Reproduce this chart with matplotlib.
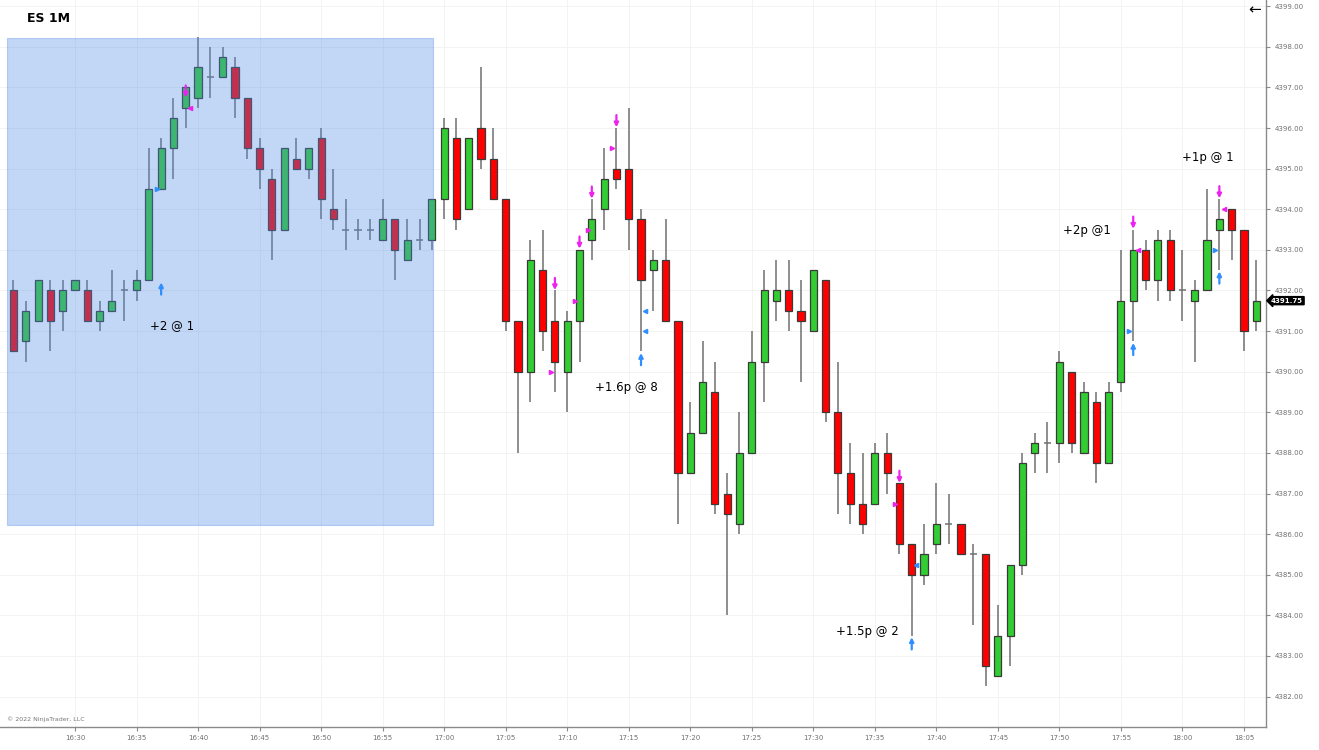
import matplotlib
matplotlib.use("Agg")
import matplotlib.pyplot as plt
import matplotlib.patches as patches
import matplotlib.transforms as mtransforms
import numpy as np

# ---------------- data ----------------
# minutes relative to 16:30 (first bar 16:25, last bar 18:06)
minutes = list(range(-5, 97))
opens = [4392.0, 4390.75, 4391.25, 4392.0, 4391.5, 4392.0, 4392.0, 4391.25, 4391.5, 4392.0,
         4392.0, 4392.25, 4394.5, 4395.5, 4396.5, 4396.75, 4397.25, 4397.25, 4397.5, 4396.75,
         4395.5, 4394.75, 4393.5, 4395.25, 4395.0, 4395.75, 4394.0, 4393.5, 4393.5, 4393.5,
         4393.25, 4393.75, 4392.75, 4393.25, 4393.25, 4394.25, 4395.75, 4394.0, 4396.0, 4395.25,
         4394.25, 4391.25, 4390.0, 4392.5, 4391.25, 4390.0, 4391.25, 4393.25, 4394.0, 4395.0,
         4395.0, 4393.75, 4392.5, 4392.75, 4391.25, 4387.5, 4388.5, 4389.5, 4387.0, 4386.25,
         4388.0, 4390.25, 4391.75, 4392.0, 4391.5, 4391.0, 4392.25, 4389.0, 4387.5, 4386.75,
         4386.75, 4388.0, 4387.25, 4385.75, 4385.0, 4385.75, 4386.25, 4386.25, 4385.5, 4385.5,
         4382.5, 4383.5, 4385.25, 4388.0, 4388.25, 4388.25, 4390.0, 4388.0, 4389.25, 4387.75,
         4389.75, 4391.75, 4393.0, 4392.25, 4393.25, 4392.0, 4391.75, 4392.0, 4393.5, 4394.0,
         4393.5, 4391.25]
highs = [4392.25, 4391.75, 4392.25, 4392.25, 4392.25, 4392.25, 4392.25, 4391.75, 4392.5, 4392.25,
         4392.5, 4395.5, 4395.75, 4396.75, 4397.0, 4398.25, 4398.0, 4398.0, 4397.75, 4396.75,
         4395.75, 4395.0, 4395.5, 4395.75, 4395.5, 4396.0, 4395.0, 4394.25, 4393.75, 4393.75,
         4394.25, 4393.75, 4393.75, 4393.75, 4394.25, 4396.25, 4396.25, 4395.75, 4397.5, 4396.0,
         4394.25, 4391.25, 4393.25, 4393.5, 4392.0, 4391.5, 4393.0, 4394.25, 4395.5, 4396.0,
         4396.5, 4394.0, 4393.0, 4393.75, 4391.25, 4389.25, 4390.75, 4390.25, 4387.5, 4389.0,
         4391.0, 4392.5, 4392.75, 4392.75, 4392.25, 4392.5, 4392.25, 4390.25, 4388.25, 4388.0,
         4388.25, 4388.5, 4387.25, 4385.75, 4386.25, 4387.25, 4387.0, 4386.25, 4385.75, 4385.5,
         4384.25, 4385.25, 4388.0, 4388.5, 4388.75, 4390.5, 4390.0, 4389.75, 4389.5, 4389.75,
         4393.0, 4393.5, 4393.25, 4393.5, 4393.5, 4393.0, 4392.25, 4394.5, 4394.25, 4394.0,
         4393.5, 4392.75]
lows = [4390.5, 4390.25, 4391.25, 4390.5, 4391.0, 4392.0, 4391.25, 4391.0, 4391.5, 4391.25,
        4391.75, 4392.25, 4394.5, 4394.75, 4396.0, 4396.5, 4396.75, 4397.25, 4396.25, 4395.25,
        4394.5, 4392.75, 4393.5, 4395.0, 4394.75, 4393.75, 4393.5, 4393.0, 4393.25, 4393.25,
        4393.25, 4392.25, 4392.75, 4393.0, 4393.0, 4393.75, 4393.5, 4394.0, 4395.0, 4394.25,
        4391.0, 4388.0, 4389.25, 4390.5, 4389.5, 4389.0, 4390.25, 4392.75, 4393.5, 4394.5,
        4393.0, 4390.5, 4391.5, 4391.25, 4386.25, 4387.5, 4388.5, 4386.5, 4384.0, 4386.0,
        4388.0, 4389.25, 4391.25, 4391.0, 4389.75, 4391.0, 4388.75, 4386.5, 4386.25, 4386.0,
        4386.75, 4387.0, 4385.5, 4383.5, 4384.75, 4385.5, 4385.75, 4385.5, 4383.75, 4382.25,
        4382.5, 4382.75, 4385.0, 4387.5, 4387.5, 4387.75, 4388.0, 4388.0, 4387.25, 4387.75,
        4389.5, 4390.75, 4392.0, 4391.75, 4391.75, 4391.25, 4390.25, 4392.0, 4392.5, 4392.75,
        4390.5, 4391.0]
closes = [4390.5, 4391.5, 4392.25, 4391.25, 4392.0, 4392.25, 4391.25, 4391.5, 4391.75, 4392.0,
          4392.25, 4394.5, 4395.5, 4396.25, 4397.0, 4397.5, 4397.25, 4397.75, 4396.75, 4395.5,
          4395.0, 4393.5, 4395.5, 4395.0, 4395.5, 4394.25, 4393.75, 4393.5, 4393.5, 4393.5,
          4393.75, 4393.0, 4393.25, 4393.25, 4394.25, 4396.0, 4393.75, 4395.75, 4395.25, 4394.25,
          4391.25, 4390.0, 4392.75, 4391.0, 4390.25, 4391.25, 4393.0, 4393.75, 4394.75, 4394.75,
          4393.75, 4392.25, 4392.75, 4391.25, 4387.5, 4388.5, 4389.75, 4386.75, 4386.5, 4388.0,
          4390.25, 4392.0, 4392.0, 4391.5, 4391.25, 4392.5, 4389.0, 4387.5, 4386.75, 4386.25,
          4388.0, 4387.5, 4385.75, 4385.0, 4385.5, 4386.25, 4386.25, 4385.5, 4385.5, 4382.75,
          4383.5, 4385.25, 4387.75, 4388.25, 4388.25, 4390.25, 4388.25, 4389.5, 4387.75, 4389.5,
          4391.75, 4393.0, 4392.25, 4393.25, 4392.0, 4392.0, 4392.0, 4393.25, 4393.75, 4393.5,
          4391.0, 4391.75]

# x-axis tick labels (every 5 minutes from 16:30)
tick_minutes = list(range(0, 100, 5))
tick_labels = ["16:30", "16:35", "16:40", "16:45", "16:50", "16:55", "17:00", "17:05",
               "17:10", "17:15", "17:20", "17:25", "17:30", "17:35", "17:40", "17:45",
               "17:50", "17:55", "18:00", "18:05"]
price_ticks = list(range(4382, 4400))

# signal arrows (minute, centre price)
sell_arrow_min = [9, 39, 41, 42, 44, 67, 86, 93]
sell_arrow_px = [4396.9, 4392.16, 4393.18, 4394.41, 4396.17, 4387.41, 4393.67, 4394.42]
buy_arrow_min = [7, 46, 68, 86, 93]
buy_arrow_px = [4392.05, 4390.31, 4383.31, 4390.56, 4392.32]
# small fill markers (minute, price, side)
sell_mark_min = [9, 39, 41, 42, 44, 67, 86, 93]
sell_mark_px = [4396.5, 4390.0, 4391.75, 4393.5, 4395.5, 4386.75, 4393.0, 4394.0]
sell_mark_side = [1, -1, -1, -1, -1, -1, 1, 1]
buy_mark_min = [7, 46, 46, 68, 86, 93]
buy_mark_px = [4394.5, 4391.5, 4391.0, 4385.25, 4391.0, 4393.0]
buy_mark_side = [-1, 1, 1, 1, -1, -1]

# trade notes
note_texts = ["+2 @ 1", "+1.6p @ 8", "+1.5p @ 2", "+2p @1", "+1p @ 1"]
note_min = [7.9, 44.8, 64.4, 82.2, 92.1]
note_px = [4391.13, 4389.6, 4383.59, 4393.49, 4395.27]

last_price = 4391.75

# ---------------- figure ----------------
W, H = 1319, 750
fig = plt.figure(figsize=(W / 100, H / 100), dpi=100)
ax = fig.add_axes([0, 1 - 727 / H, 1266 / W, 727 / H])
ax.set_xlim(-6.095, 96.79)
ax.set_ylim(4381.249, 4399.155)

grid_c = "#f3f3f3"
for p in price_ticks:
    ax.axhline(p, color=grid_c, lw=0.7, zorder=0)
for t in tick_minutes:
    ax.axvline(t, color=grid_c, lw=0.7, zorder=0)

green = "#32cd32"
red = "#ff0000"
edge = "#3a3a3a"
wick = "#707070"
bw = 0.58
for m, o, h, l, c in zip(minutes, opens, highs, lows, closes):
    ax.vlines(m, l, h, color=wick, lw=1.1, zorder=2)
    if o == c:
        ax.hlines(o, m - bw / 2, m + bw / 2, color=wick, lw=1.1, zorder=3)
    else:
        col = green if c > o else red
        ax.bar(m, abs(c - o), bottom=min(o, c), width=bw, color=col,
               edgecolor=edge, linewidth=0.9, zorder=3)

# arrows
mag = "#ee22ee"
blu = "#2f8fff"
for m, p in zip(sell_arrow_min, sell_arrow_px):
    ax.annotate("", xy=(m, p - 0.15), xytext=(m, p + 0.15),
                arrowprops=dict(arrowstyle="-|>", color=mag, lw=1.6,
                                mutation_scale=6, shrinkA=0, shrinkB=0), zorder=5)
for m, p in zip(buy_arrow_min, buy_arrow_px):
    ax.annotate("", xy=(m, p + 0.15), xytext=(m, p - 0.15),
                arrowprops=dict(arrowstyle="-|>", color=blu, lw=1.6,
                                mutation_scale=6, shrinkA=0, shrinkB=0), zorder=5)
for m, p, s in zip(sell_mark_min, sell_mark_px, sell_mark_side):
    ax.plot(m + 0.35 * s, p, marker="<" if s > 0 else ">", color=mag, ms=3, zorder=5)
for m, p, s in zip(buy_mark_min, buy_mark_px, buy_mark_side):
    ax.plot(m + 0.35 * s, p, marker="<" if s > 0 else ">", color=blu, ms=3, zorder=5)

for t, m, p in zip(note_texts, note_min, note_px):
    ax.text(m, p, t, ha="center", va="center", fontsize=8.5, color="black",
            family="DejaVu Sans", zorder=6)

# shaded zone
rect = patches.Rectangle((-5.53, 4386.22), 34.63, 12.0, facecolor=(80/255, 140/255, 230/255),
                         alpha=0.35, edgecolor=(80/255, 140/255, 230/255), lw=0.8, zorder=4)
ax.add_patch(rect)

# axes styling
for s in ["left", "top"]:
    ax.spines[s].set_visible(False)
for s in ["right", "bottom"]:
    ax.spines[s].set_color("#8a8a8a")
    ax.spines[s].set_linewidth(1.0)
ax.yaxis.tick_right()
ax.set_yticks(price_ticks)
ax.set_yticklabels([f"{p:.2f}" for p in price_ticks])
ax.set_xticks(tick_minutes)
ax.set_xticklabels(tick_labels)
ax.tick_params(axis="both", labelsize=5, colors="#8a8a8a", labelcolor="#707070",
               length=3, width=0.8, pad=3)

# last price tag
trans = mtransforms.blended_transform_factory(ax.transAxes, ax.transData)
ax.text(1.004, last_price, f"{last_price:.2f}", transform=trans, ha="left", va="center",
        fontsize=5, color="white", fontweight="bold",
        bbox=dict(boxstyle="larrow,pad=0.15", facecolor="black", edgecolor="black"),
        zorder=10, clip_on=False)

fig.text(27 / W, 1 - 19 / H, "ES 1M", fontsize=9, fontweight="bold", ha="left", va="center")
fig.text(1255 / W, 1 - 10 / H, "\u2190", fontsize=11, ha="center", va="center")
fig.text(7 / W, 1 - 719 / H, "\u00a9 2022 NinjaTrader, LLC", fontsize=4.5, color="#777777",
         ha="left", va="center")

fig.savefig("out.png", dpi=100)
